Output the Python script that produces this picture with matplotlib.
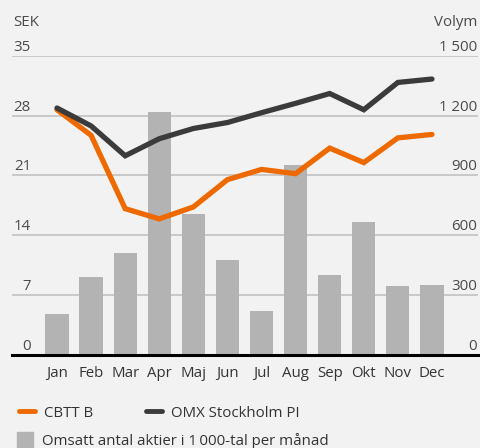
import matplotlib
matplotlib.use("Agg")
import matplotlib.pyplot as plt
from matplotlib.lines import Line2D
from matplotlib.patches import Rectangle

months = ["Jan", "Feb", "Mar", "Apr", "Maj", "Jun", "Jul", "Aug", "Sep", "Okt", "Nov", "Dec"]
volume = [205, 390, 510, 1220, 705, 475, 220, 950, 400, 665, 345, 350]
cbtt = [28.7, 25.7, 17.1, 15.9, 17.3, 20.5, 21.7, 21.2, 24.2, 22.5, 25.4, 25.8]
omx = [28.9, 26.8, 23.3, 25.3, 26.5, 27.2, 28.35, 29.45, 30.6, 28.7, 31.9, 32.3]
sek_ticks = [0, 7, 14, 21, 28, 35]
vol_ticks = [0, 300, 600, 900, 1200, 1500]
vol_labels = ["0", "300", "600", "900", "1 200", "1 500"]

BG = "#f2f2f2"
ORANGE = "#ee6a00"
DARK = "#3b3b3b"
BARC = "#b3b3b3"
GRID = "#c8c8c8"
TXT = "#4a4a4a"
FONT = "Open Sans"
FS = 10.8
plt.rcParams["font.family"] = [FONT, "DejaVu Sans"]

W, H = 481, 448
fig = plt.figure(figsize=(W / 100, H / 100), dpi=100, facecolor=BG)

def fx(px):
    return px / W

def fy(py):
    return 1 - py / H

left, right, top, bottom = 12, 478, 56, 354.5
XLIM = (-1.32, 12.35)
ax = fig.add_axes([fx(left), fy(bottom), fx(right - left), fy(top) - fy(bottom)])
ax.set_facecolor("none")
x = list(range(len(months)))
ax.set_xlim(*XLIM)
ax.set_ylim(0, 1500)
for t in vol_ticks[1:]:
    ax.axhline(t, color=GRID, lw=1.4, zorder=1)
ax.bar(x, volume, width=0.68, color=BARC, zorder=2)
ax.axhline(0, color="black", lw=2.2, zorder=5, clip_on=False)
for s in ax.spines.values():
    s.set_visible(False)
ax.set_xticks([])
ax.set_yticks([])

ax2 = ax.twinx()
ax2.set_facecolor("none")
ax2.set_ylim(0, 35)
ax2.set_xlim(*XLIM)
ax2.plot(x, cbtt, color=ORANGE, lw=3.8, solid_joinstyle="miter", solid_capstyle="round", zorder=3)
ax2.plot(x, omx, color=DARK, lw=3.8, solid_joinstyle="miter", solid_capstyle="round", zorder=4)
for s in ax2.spines.values():
    s.set_visible(False)
ax2.set_xticks([])
ax2.set_yticks([])

# tick labels placed above gridlines
pix_per_sek = (bottom - top) / 35
for v in sek_ticks:
    ypix = bottom - v * pix_per_sek - 5
    fig.text(fx(31), fy(ypix), str(v), ha="right", va="baseline", fontsize=FS, color=TXT)
for v, lab in zip(vol_ticks, vol_labels):
    ypix = bottom - v / 1500 * (bottom - top) - 5
    fig.text(fx(477), fy(ypix), lab, ha="right", va="baseline", fontsize=FS, color=TXT)
fig.text(fx(13), fy(26.5), "SEK", ha="left", va="baseline", fontsize=FS, color=TXT)
fig.text(fx(477), fy(26.5), "Volym", ha="right", va="baseline", fontsize=FS, color=TXT)

for i, m in enumerate(months):
    ax.text(i, fy(377), m, transform=ax.get_yaxis_transform().__class__(ax.transData, fig.transFigure),
            ha="center", va="baseline", fontsize=FS, color="#333333")

# legend
fig.add_artist(Line2D([fx(19), fx(35)], [fy(411), fy(411)], color=ORANGE, lw=3.5, solid_capstyle="round"))
fig.text(fx(44), fy(417), "CBTT B", ha="left", va="baseline", fontsize=FS, color="#333333")
fig.add_artist(Line2D([fx(146), fx(162)], [fy(411), fy(411)], color=DARK, lw=3.5, solid_capstyle="round"))
fig.text(fx(171), fy(417), "OMX Stockholm PI", ha="left", va="baseline", fontsize=FS, color="#333333")
fig.add_artist(Rectangle((fx(17), fy(448)), fx(16), fy(432) - fy(448), color=BARC, transform=fig.transFigure))
fig.text(fx(42), fy(445), "Omsatt antal aktier i 1\u2009000-tal per månad", ha="left", va="baseline", fontsize=FS, color="#333333")

fig.savefig("out.png", dpi=100, facecolor=BG)
